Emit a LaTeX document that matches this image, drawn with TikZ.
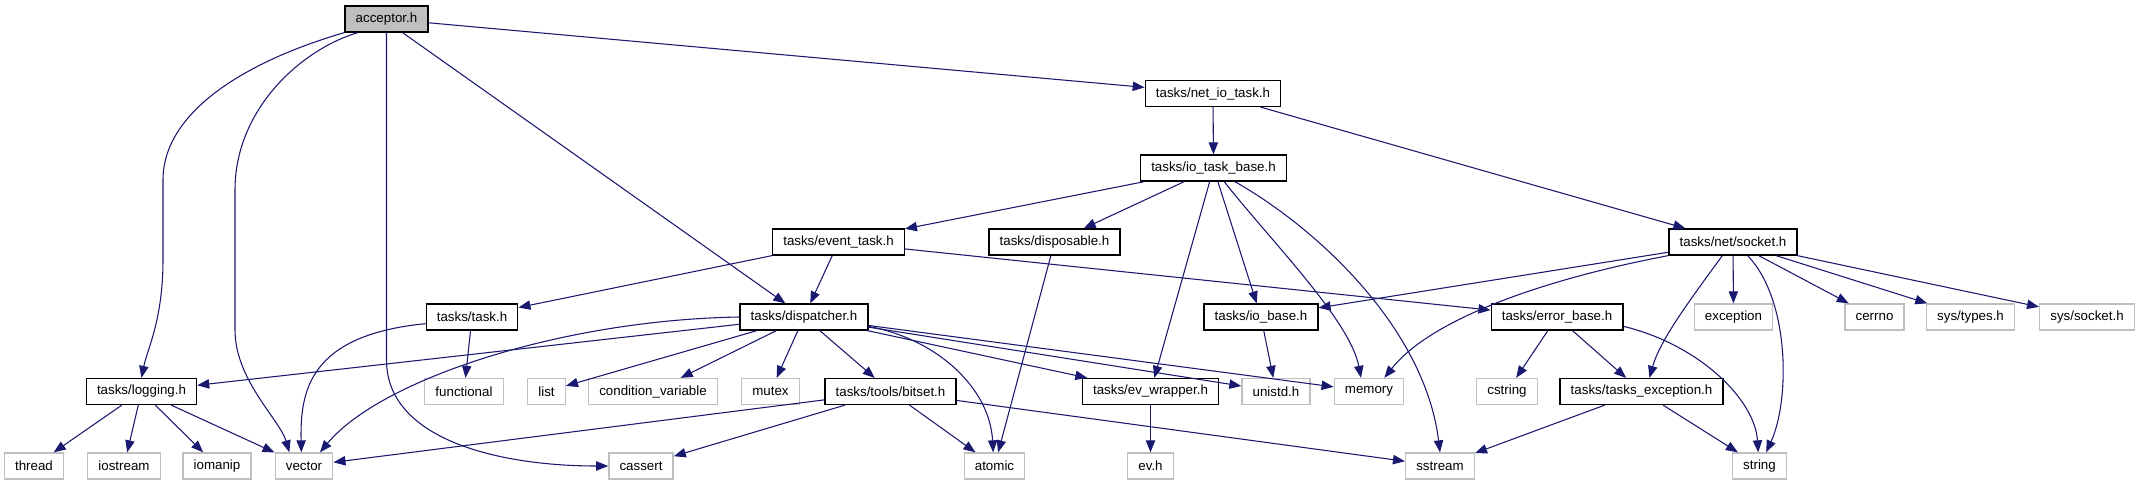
\documentclass[tikz,border=0pt]{standalone}
\usepackage{fontspec}
\setmainfont{Liberation Sans}
\usepackage{tikz}
\definecolor{depEdge}{HTML}{191970}
\definecolor{depGrey}{HTML}{BFBFBF}
\usetikzlibrary{arrows.meta}

\begin{document}
\begin{tikzpicture}[x=0.75pt,y=-0.75pt, every node/.style={font=\fontsize{10}{12}\selectfont},
  hdr/.style={draw=black, fill=white, line width=0.9pt, inner xsep=8pt, inner ysep=0pt, minimum height=19.5pt},
  sys/.style={draw=depGrey, fill=white, line width=1pt, inner xsep=8pt, inner ysep=0pt, minimum height=19.5pt},
  dep/.style={draw=depEdge, line width=0.8pt, -{Triangle[length=9pt,width=7pt]}}]
  \useasboundingbox[fill=white] (0,0) rectangle (2155,485);
  % project headers
  \node[hdr, fill=depGrey] (acceptor) at (386.5,19) {acceptor.h};
  \node[hdr] (netio) at (1213,93.5) {tasks/net\_io\_task.h};
  \node[hdr] (iotaskbase) at (1213.5,168) {tasks/io\_task\_base.h};
  \node[hdr] (eventtask) at (838.5,242) {tasks/event\_task.h};
  \node[hdr] (disposable) at (1054.5,242) {tasks/disposable.h};
  \node[hdr] (socket) at (1733,242) {tasks/net/socket.h};
  \node[hdr] (task) at (472,317) {tasks/task.h};
  \node[hdr] (dispatcher) at (804,317) {tasks/dispatcher.h};
  \node[hdr] (iobase) at (1261,317) {tasks/io\_base.h};
  \node[hdr] (errorbase) at (1557,317) {tasks/error\_base.h};
  \node[hdr] (logging) at (141.5,391.5) {tasks/logging.h};
  \node[hdr] (bitset) at (890.5,391.5) {tasks/tools/bitset.h};
  \node[hdr] (evwrapper) at (1150.5,391.5) {tasks/ev\_wrapper.h};
  \node[hdr] (tasksexc) at (1641.5,391.5) {tasks/tasks\_exception.h};
  % system headers
  \foreach \name/\x/\y/\label in {exception/1733.5/317/exception, cerrno/1874.5/317/cerrno,
      systypes/1970.5/317/{sys/types.h}, syssocket/2087/317/{sys/socket.h},
      functional/464/391.5/functional, list/546.5/391.5/list, condvar/653/391.5/condition\_variable,
      mutex/770.5/391.5/mutex, unistd/1276/391.5/unistd.h, memory/1369/391.5/memory,
      cstring/1507/391.5/cstring, thread/34/466/thread, iostream/124/466/iostream,
      iomanip/217/466/iomanip, vector/304/466/vector, cassert/641/466/cassert,
      atomic/994.5/466/atomic, evh/1150.5/466/ev.h, sstream/1440/466/sstream, string/1759.5/466/string} {
    \node[sys] (\name) at (\x,\y) {\label};
  }
  % straight includes
  \foreach \a/\b in {acceptor/netio, netio/iotaskbase, netio/socket,
      iotaskbase/eventtask, iotaskbase/disposable, iotaskbase/evwrapper, iotaskbase/iobase,
      eventtask/task, eventtask/dispatcher, eventtask/errorbase, disposable/atomic,
      socket/iobase, socket/exception, socket/cerrno, socket/systypes, socket/syssocket,
      task/functional, dispatcher/logging, dispatcher/list, dispatcher/condvar, dispatcher/mutex,
      dispatcher/bitset, dispatcher/evwrapper, dispatcher/unistd, dispatcher/memory,
      iobase/unistd, errorbase/cstring, errorbase/tasksexc,
      logging/thread, logging/iostream, logging/iomanip, logging/vector,
      bitset/vector, bitset/cassert, bitset/atomic, bitset/sstream,
      evwrapper/evh, tasksexc/sstream, tasksexc/string} {
    \draw[dep] (\a) -- (\b);
  }
  % curved includes
  \draw[dep] (acceptor.south west) .. controls (250,60) and (163,110) .. (163,180) -- (163,260) .. controls (163,320) and (147,350) .. (logging.north);
  \draw[dep] ([xshift=10pt]acceptor.south west) .. controls (300,50) and (235,110) .. (235,190) -- (235,330) .. controls (235,380) and (280,420) .. ([xshift=-11pt]vector.north);
  \draw[dep] (acceptor.south) -- (386.5,360) .. controls (386.5,440) and (500,466) .. (cassert.west);
  \draw[dep] ([xshift=12pt]acceptor.south) -- ([xshift=-14pt]dispatcher.north);
  \draw[dep] ([xshift=8pt]iotaskbase.south) .. controls (1270,240) and (1350,320) .. ([xshift=-6pt]memory.north);
  \draw[dep] ([xshift=16pt]iotaskbase.south) .. controls (1320,230) and (1425,330) .. (sstream.north);
  \draw[dep] (socket.south west) .. controls (1540,280) and (1430,320) .. ([xshift=-15pt]memory.north east);
  \draw[dep] ([xshift=-8pt]socket.south) .. controls (1690,300) and (1660,340) .. ([xshift=6pt]tasksexc.north);
  \draw[dep] ([xshift=11pt]socket.south) .. controls (1790,300) and (1790,400) .. ([xshift=5pt]string.north);
  \draw[dep] ([yshift=-5pt]task.west) .. controls (310,335) and (300,390) .. ([xshift=-2pt]vector.north);
  \draw[dep] (dispatcher.west) .. controls (560,320) and (380,380) .. ([xshift=12pt]vector.north);
  \draw[dep] ([yshift=-7pt]dispatcher.east) .. controls (940,340) and (990,390) .. ([xshift=-1pt]atomic.north);
  \draw[dep] ([yshift=-7pt]errorbase.east) .. controls (1700,345) and (1755,400) .. ([xshift=-1pt]string.north);
\end{tikzpicture}
\end{document}
